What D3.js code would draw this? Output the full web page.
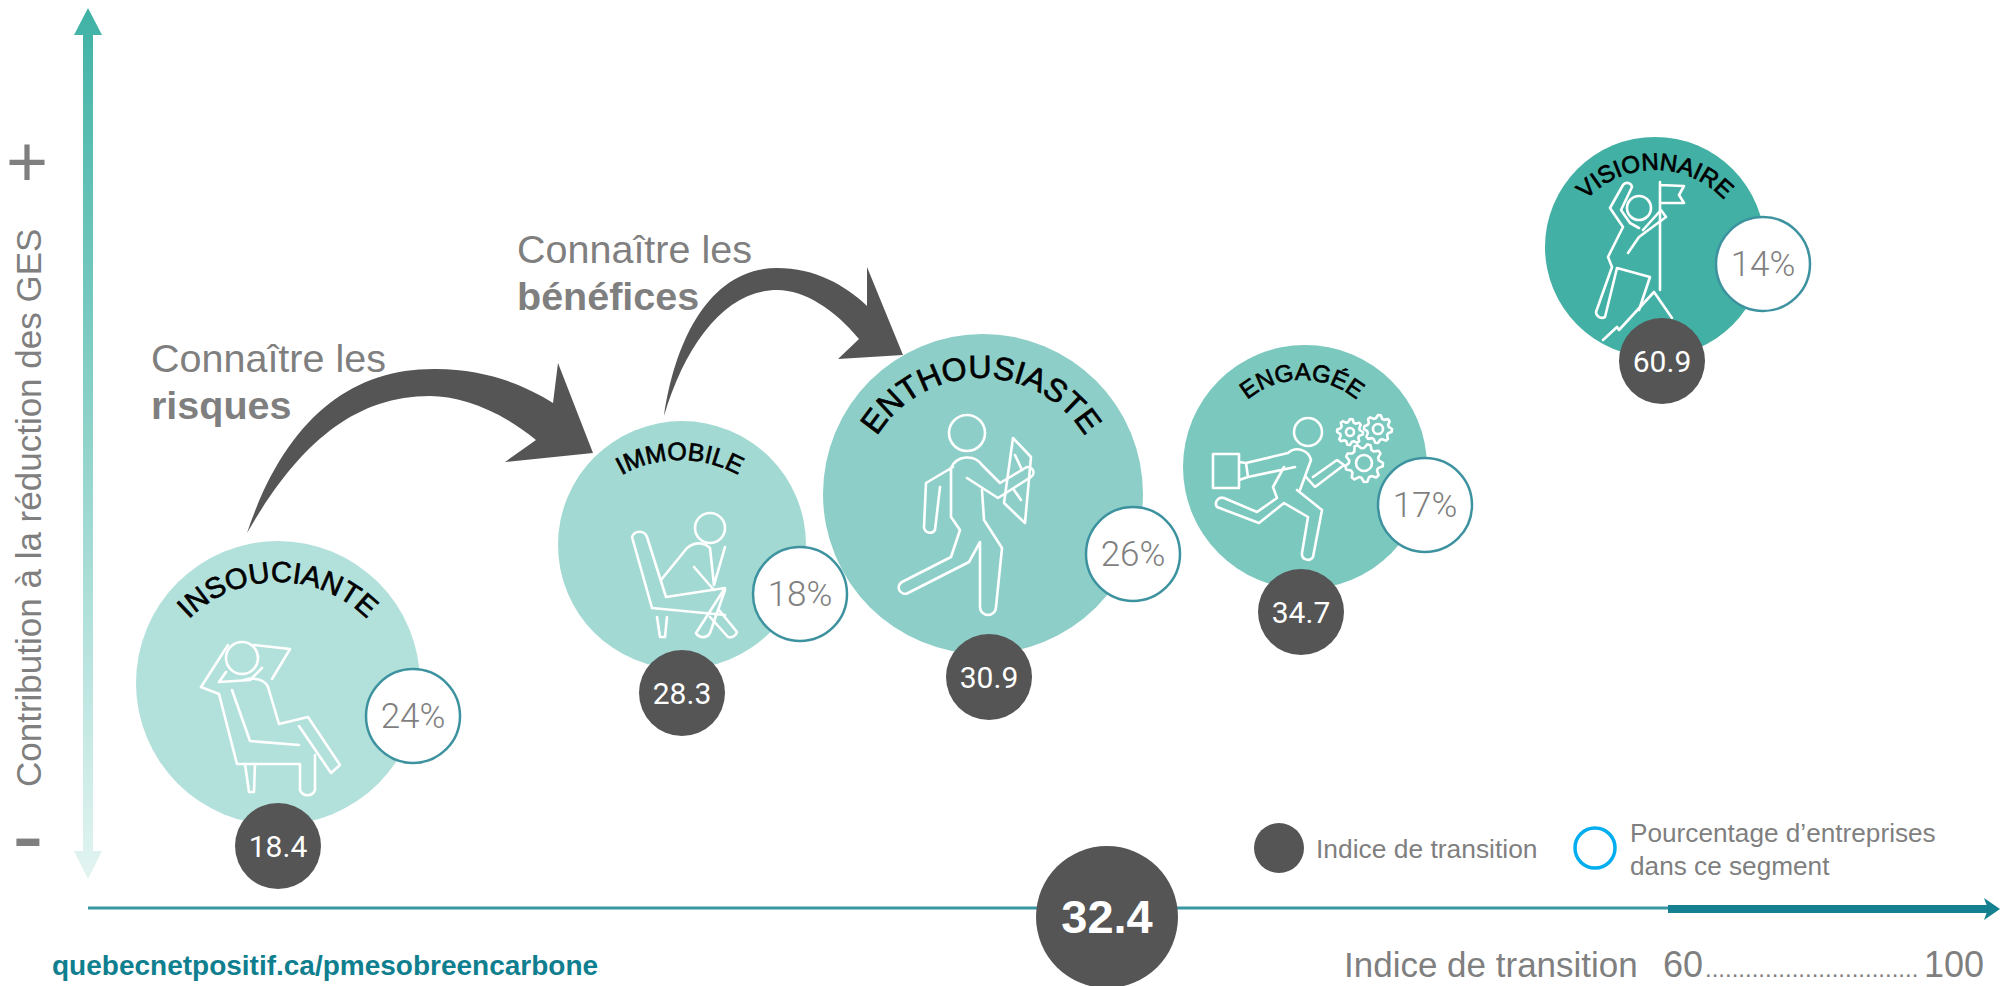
<!DOCTYPE html>
<html lang="fr">
<head>
    <meta charset="UTF-8">
    <script src="https://d3js.org/d3.v7.min.js"></script>
    <style>
        html, body { margin: 0; background: #fff; overflow: hidden; }
        svg { display: block; }
        text { font-family: "Liberation Sans", Arial, sans-serif; fill: #7f7f7f; }
        .icon { fill: none; stroke: #fff; stroke-width: 2.6; stroke-linejoin: round; stroke-linecap: round; }
        .num { font-family: Roboto, sans-serif; text-anchor: middle; dominant-baseline: central; }
        .seg { fill: #000; stroke: #000; stroke-width: 0.7; text-anchor: middle; }
    </style>
</head>
<body>
    <svg id="chart" width="2000" height="986"></svg>

    <script>
        // valeurs
        const segments = ["INSOUCIANTE", "IMMOBILE", "ENTHOUSIASTE", "ENGAGÉE", "VISIONNAIRE"];
        const indices = [18.4, 28.3, 30.9, 34.7, 60.9];
        const percents = [24, 18, 26, 17, 14];
        const overallIndex = 32.4;

        const svg = d3.select("#chart");

        // placement schematique : les echelles sont lineaires par morceaux
        const sortedIdx = indices.slice().sort(d3.ascending);
        const sortedPct = percents.slice().sort(d3.ascending);
        const x = d3.scaleLinear().domain(sortedIdx).range([278, 682, 983, 1305, 1655]);
        const y = d3.scaleLinear().domain(sortedIdx).range([683, 545, 494, 467, 247]);
        const r = d3.scaleLinear().domain(sortedPct).range([110, 122, 124, 142, 160]);
        const fill = d3.scaleOrdinal().domain(segments).range(["#b2e0db", "#a2d9d2", "#8dcfc8", "#7bc8bf", "#42b0a4"]);

        const badgeX = d3.scaleOrdinal().domain(segments).range([278, 682, 989, 1301, 1662]);
        const badgeY = d3.scaleOrdinal().domain(segments).range([846, 693, 677, 612, 361]);
        const pctX = d3.scaleOrdinal().domain(segments).range([413, 800, 1133, 1425, 1763]);
        const pctY = d3.scaleOrdinal().domain(segments).range([716, 594, 554, 505, 264]);

        // arcs des etiquettes : cx, cy, rayon, taille de police
        const arcX = d3.scaleOrdinal().domain(segments).range([278, 680, 981, 1302, 1655]);
        const arcY = d3.scaleOrdinal().domain(segments).range([707, 580, 500, 465, 265]);
        const arcR = d3.scaleOrdinal().domain(segments).range([125, 120, 122, 85, 95]);
        const arcFont = d3.scaleOrdinal().domain(segments).range([29, 25, 32, 24, 24]);

        const rows = segments.map((s, i) => ({ seg: s, idx: indices[i], pct: percents[i] }));

        const defs = svg.append("defs");
        const grad = defs.append("linearGradient").attr("id", "axisY")
            .attr("gradientUnits", "userSpaceOnUse")
            .attr("x1", 0).attr("x2", 0).attr("y1", 8).attr("y2", 879);
        grad.append("stop").attr("offset", "0%").attr("stop-color", "#3fb2a5");
        grad.append("stop").attr("offset", "100%").attr("stop-color", "#e2f4f1");

        // axe vertical
        svg.append("path")
            .attr("d", "M88,8 L102,35 L93,35 L93,851 L102,851 L88,879 L74,851 L83,851 L83,35 L74,35 Z")
            .attr("fill", "url(#axisY)");
        svg.append("text")
            .attr("transform", "translate(41,787) rotate(-90)")
            .attr("font-size", 35)
            .text("Contribution à la réduction des GES");
        svg.append("text").attr("x", 27).attr("y", 186).attr("text-anchor", "middle").attr("font-size", 72).text("+");
        svg.append("text").attr("x", 28).attr("y", 867).attr("text-anchor", "middle").attr("font-size", 94).text("-");

        // axe horizontal
        svg.append("line").attr("x1", 88).attr("x2", 1990).attr("y1", 908).attr("y2", 908)
            .attr("stroke", "#3a96a3").attr("stroke-width", 3);
        svg.append("rect").attr("x", 1668).attr("y", 905).attr("width", 322).attr("height", 8).attr("fill", "#15808f");
        svg.append("path").attr("d", "M1984,898 L2000,909 L1984,920 L1988,909 Z").attr("fill", "#15808f");

        // fleches
        svg.append("path").attr("fill", "#555")
            .attr("d", "M247,533 C285,420 350,368 436,369 C485,369 525,385 553,403 L558,363 L593,453 L505,462 L536,440 C500,410 460,396 430,396 C350,396 295,450 247,533 Z");
        svg.append("path").attr("fill", "#555")
            .attr("d", "M664,416 C675,340 710,268 777,268 C815,268 845,285 867,306 L867,267 L903,355 L838,359 L859,339 C835,310 805,290 777,290 C725,290 685,345 664,416 Z");

        const note = (px, py, a, b) => {
            svg.append("text").attr("x", px).attr("y", py).attr("font-size", 39.5).text(a);
            svg.append("text").attr("x", px).attr("y", py + 47).attr("font-size", 39.5).attr("font-weight", "bold").text(b);
        };
        note(151, 372, "Connaître les", "risques");
        note(517, 263, "Connaître les", "bénéfices");

        // bulles
        svg.selectAll(".bubble")
            .data(rows)
            .enter()
            .append("circle")
            .attr("class", "bubble")
            .attr("cx", d => x(d.idx))
            .attr("cy", d => y(d.idx))
            .attr("r", d => r(d.pct))
            .attr("fill", d => fill(d.seg));

        // pictogrammes
        const gear = (cx, cy, ro, ri, teeth) => {
            const pts = [];
            d3.range(teeth * 4).forEach(i => {
                const a = i / (teeth * 4) * 2 * Math.PI;
                const rad = (i % 4 < 2) ? ro : ri;
                pts.push([cx + rad * Math.cos(a), cy + rad * Math.sin(a)]);
            });
            return "M" + pts.join("L") + "Z";
        };
        const icons = [
            // insouciante
            "M219,694 L201,687 L228,645 M254,645 L290,649 L272,679 M226,672 L219,682 L250,680 L262,668",
            "M219,694 L237,764 L299,764 M232,690 L250,741 L299,745 M268,687 L279,724 L308,717 L340,765 L331,773 L299,726",
            "M244,680 C258,676 266,682 268,687 M245,764 L249,792 L254,792 L255,764 M300,764 L300,790 A8,8 0 0 0 315,790 L315,755",
            // immobile
            "M652,608 L632,537 A8,8 0 0 1 647,537 L666,597 L725,588 L696,633 A8,8 0 0 0 710,633 L725,590",
            "M652,608 L725,615 M657,617 L660,637 L665,637 L667,617 M661,580 L687,548 C697,540 706,544 710,548 L714,585 M725,547 L714,585 M694,567 L714,590",
            "M719,610 L737,632 A7,7 0 0 1 728,637 L710,617",
            // enthousiaste
            "M953,467 L926,483 L924,527 A6,6 0 0 0 935,530 L940,487 M951,468 L951,517 L960,530 L951,557 L902,582 A6,6 0 0 0 908,593 L969,562 L980,542 L980,607 A8,8 0 0 0 996,607 L1002,548 L984,520 L982,490",
            "M967,478 L998,498 L1031,477 A5,5 0 0 0 1025,468 L1000,483 L982,465 A18,18 0 0 0 951,468",
            "M1013,438 L1031,457 L1025,523 L1004,503 Z M1015,455 L1022,470 M1014,490 L1021,500",
            // engagee
            "M1213,454 H1239 V488 H1213 Z M1239,462 L1246,463 L1248,477 L1239,480 M1248,477 L1295,467 M1246,463 L1288,453 A14,14 0 0 1 1311,460 L1300,490",
            "M1306,477 L1315,487 L1344,465 L1337,460 L1313,477 M1273,487 L1277,498 L1257,512 L1224,498 A6,6 0 0 0 1217,507 L1259,523 L1284,503 L1308,517 L1302,553 A6,6 0 0 0 1313,557 L1322,510 L1297,490 M1273,487 L1284,467",
            gear(1350, 432, 13, 10, 8), gear(1378, 429, 14, 11, 8), gear(1364, 463, 19, 15, 9),
            // visionnaire
            "M1660,182 L1660,290 M1660,185 L1684,186 L1679,195 L1684,203 L1660,203",
            "M1623,227 L1610,208 L1623,185 A5,5 0 0 1 1632,187 L1621,210 L1630,223 M1623,227 L1608,257 L1612,267 L1596,312 A6,6 0 0 0 1605,317 L1617,268 L1650,277 L1639,310 M1628,253 L1639,237 L1666,217 L1661,210 L1643,230 M1630,223 L1639,228",
            "M1603,340 L1617,327 L1619,330 L1654,292 L1672,318"
        ];
        svg.selectAll(".icon")
            .data(icons)
            .enter()
            .append("path")
            .attr("class", "icon")
            .attr("d", d => d);

        const heads = [[242, 658, 16], [710, 528, 15], [967, 433, 18], [1308, 432, 14], [1639, 208, 12]];
        svg.selectAll(".head")
            .data(heads)
            .enter()
            .append("circle")
            .attr("class", "icon head")
            .attr("cx", d => d[0]).attr("cy", d => d[1]).attr("r", d => d[2]);
        [[1350, 432, 4], [1378, 429, 5], [1364, 463, 8]].forEach(g => {
            svg.append("circle").attr("class", "icon").attr("cx", g[0]).attr("cy", g[1]).attr("r", g[2]);
        });

        // etiquettes courbes
        rows.forEach((d, i) => {
            const rad = arcR(d.seg), cx = arcX(d.seg), cy = arcY(d.seg);
            defs.append("path").attr("id", "arc" + i)
                .attr("d", `M${cx - rad},${cy} A${rad},${rad} 0 0 1 ${cx + rad},${cy}`);
            svg.append("text").attr("class", "seg").attr("font-size", arcFont(d.seg))
                .append("textPath")
                .attr("href", "#arc" + i)
                .attr("startOffset", "50%")
                .text(d.seg);
        });

        // pourcentages
        svg.selectAll(".pct")
            .data(rows)
            .enter()
            .append("circle")
            .attr("class", "pct")
            .attr("cx", d => pctX(d.seg)).attr("cy", d => pctY(d.seg)).attr("r", 47)
            .attr("fill", "#fff").attr("stroke", "#3d929f").attr("stroke-width", 2.5);
        svg.selectAll(".pctLabel")
            .data(rows)
            .enter()
            .append("text")
            .attr("class", "num pctLabel")
            .attr("x", d => pctX(d.seg)).attr("y", d => pctY(d.seg))
            .attr("font-size", 35).attr("font-weight", 300)
            .text(d => d.pct + "%");

        // indices
        svg.selectAll(".badge")
            .data(rows)
            .enter()
            .append("circle")
            .attr("class", "badge")
            .attr("cx", d => badgeX(d.seg)).attr("cy", d => badgeY(d.seg)).attr("r", 43)
            .attr("fill", "#555");
        svg.selectAll(".badgeLabel")
            .data(rows)
            .enter()
            .append("text")
            .attr("class", "num badgeLabel")
            .style("fill", "#fff")
            .attr("x", d => badgeX(d.seg)).attr("y", d => badgeY(d.seg))
            .attr("font-size", 30)
            .text(d => d.idx.toFixed(1));

        svg.append("circle").attr("cx", 1107).attr("cy", 917).attr("r", 71).attr("fill", "#555");
        svg.append("text")
            .attr("x", 1107).attr("y", 916)
            .attr("text-anchor", "middle").attr("dominant-baseline", "central")
            .attr("font-size", 47).attr("font-weight", "bold")
            .style("fill", "#fff")
            .text(overallIndex.toFixed(1));

        // legende
        svg.append("circle").attr("cx", 1279).attr("cy", 848).attr("r", 25).attr("fill", "#555");
        svg.append("text").attr("x", 1316).attr("y", 858).attr("font-size", 26.4).text("Indice de transition");
        svg.append("circle").attr("cx", 1595).attr("cy", 848).attr("r", 20).attr("fill", "none").attr("stroke", "#00aeef").attr("stroke-width", 3.5);
        svg.append("text").attr("x", 1630).attr("y", 842).attr("font-size", 26.2).text("Pourcentage d’entreprises");
        svg.append("text").attr("x", 1630).attr("y", 875).attr("font-size", 26.2).text("dans ce segment");

        // bas de page
        svg.append("text").attr("x", 52).attr("y", 975).attr("font-size", 28).attr("font-weight", "bold")
            .style("fill", "#0f7f8f").text("quebecnetpositif.ca/pmesobreencarbone");
        svg.append("text").attr("x", 1344).attr("y", 977).attr("font-size", 35).text("Indice de transition");
        svg.append("text").attr("x", 1663).attr("y", 977).attr("font-size", 36).text("60");
        svg.append("text").attr("x", 1705).attr("y", 977).attr("font-size", 24).text("................................");
        svg.append("text").attr("x", 1984).attr("y", 977).attr("text-anchor", "end").attr("font-size", 36).text("100");
    </script>
</body>
</html>
